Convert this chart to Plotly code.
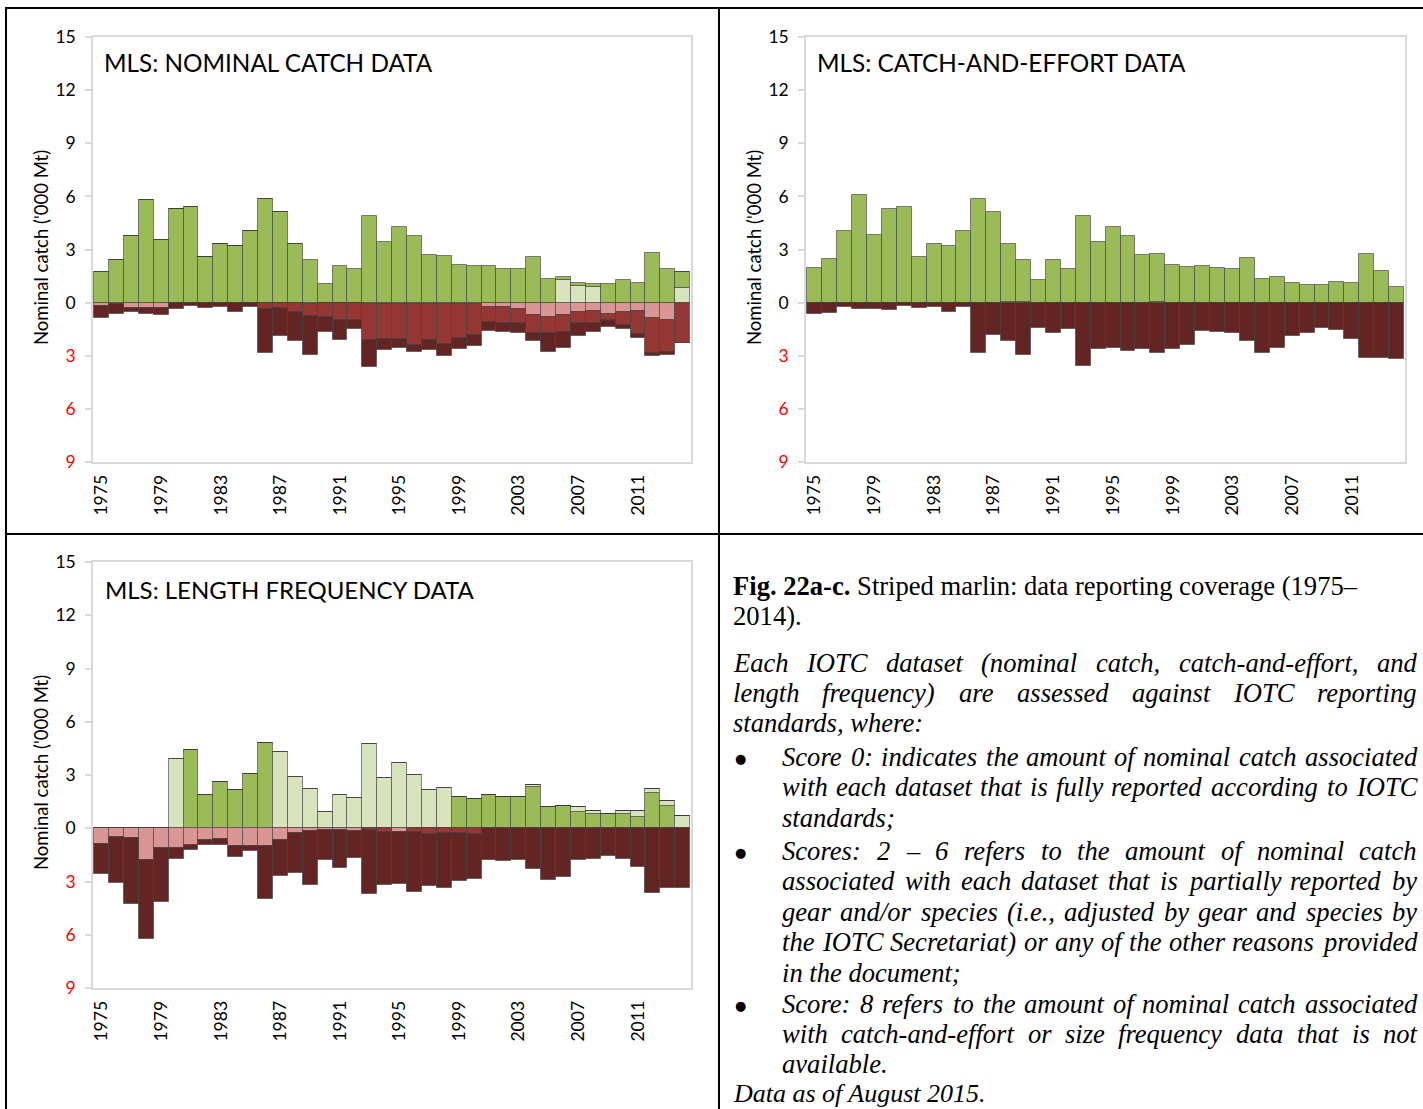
import plotly.graph_objects as go

W, H = 1423, 1109

years = list(range(1975, 2015))
tick_years = [1975, 1979, 1983, 1987, 1991, 1995, 1999, 2003, 2007, 2011]

# ---- Panel a: nominal catch data ('000 t) ----
nc_green = [1.74, 2.43, 3.74, 5.77, 3.51, 5.28, 5.40, 2.55, 3.30, 3.19,
            4.04, 5.87, 5.09, 3.30, 2.43, 1.06, 2.06, 1.92, 4.89, 3.42,
            4.25, 3.79, 2.70, 2.64, 2.13, 2.08, 2.06, 1.92, 1.89, 2.55,
            1.36, 0.17, 0.17, 0.15, 1.04, 1.25, 1.13, 2.83, 1.92, 0.94]
nc_lightgreen = [0, 0, 0, 0, 0, 0, 0, 0, 0, 0,
                 0, 0, 0, 0, 0, 0, 0, 0, 0, 0,
                 0, 0, 0, 0, 0, 0, 0, 0, 0, 0,
                 0, 1.28, 0.96, 0.89, 0, 0, 0, 0, 0, 0.81]
nc_pink = [0.19, 0.10, 0.28, 0.28, 0.30, 0, 0, 0, 0, 0,
           0, 0, 0, 0, 0.05, 0.04, 0.04, 0.04, 0.05, 0.05,
           0.08, 0.05, 0.05, 0.05, 0.06, 0.05, 0.25, 0.25, 0.38, 0.72,
           0.81, 0.72, 0.53, 0.47, 0.62, 0.53, 0.49, 0.85, 1.00, 0]
nc_red = [0, 0, 0, 0, 0, 0, 0, 0, 0, 0,
          0, 0.38, 0.28, 0.53, 0.72, 0.79, 0.92, 0.94, 2.08, 1.98,
          1.98, 2.36, 2.04, 2.26, 1.92, 1.75, 0.83, 0.92, 0.75, 1.02,
          0.89, 0.92, 0.62, 0.66, 0.38, 0.72, 1.30, 2.02, 1.79, 2.26]
nc_darkred = [0.66, 0.55, 0.25, 0.34, 0.40, 0.38, 0.19, 0.28, 0.23, 0.53,
              0.26, 2.49, 1.60, 1.62, 2.17, 0.85, 1.15, 0.53, 1.53, 0.66,
              0.53, 0.38, 0.60, 0.72, 0.66, 0.66, 0.51, 0.49, 0.58, 0.40,
              1.09, 0.91, 0.72, 0.51, 0.36, 0.23, 0.23, 0.15, 0.17, 0.04]

# ---- Panel b: catch-and-effort data ----
ce_lightgreen = [0, 0, 0, 0, 0, 0, 0, 0, 0, 0,
                 0, 0, 0, 0.06, 0.06, 0, 0, 0, 0, 0,
                 0, 0, 0, 0.06, 0, 0, 0, 0, 0, 0,
                 0, 0, 0, 0, 0, 0, 0, 0, 0, 0]
ce_green = [1.94, 2.49, 4.02, 6.06, 3.81, 5.28, 5.38, 2.55, 3.30, 3.19,
            4.04, 5.87, 5.09, 3.24, 2.32, 1.25, 2.43, 1.91, 4.89, 3.43,
            4.25, 3.79, 2.70, 2.69, 2.13, 2.04, 2.08, 1.94, 1.89, 2.53,
            1.32, 1.45, 1.11, 1.00, 1.00, 1.19, 1.09, 2.72, 1.77, 0.89]
ce_darkred = [0.66, 0.58, 0.23, 0.38, 0.38, 0.40, 0.21, 0.28, 0.23, 0.53,
              0.26, 2.87, 1.85, 2.15, 2.98, 1.45, 1.72, 1.47, 3.60, 2.64,
              2.55, 2.74, 2.64, 2.87, 2.60, 2.42, 1.62, 1.66, 1.70, 2.17,
              2.83, 2.58, 1.91, 1.70, 1.42, 1.53, 2.08, 3.11, 3.11, 3.17]

# ---- Panel c: length frequency data ----
sf_green = [0, 0, 0, 0, 0, 0, 4.40, 1.89, 2.60, 2.13,
            3.06, 4.81, 0, 0, 0, 0, 0, 0, 0, 0,
            0, 0, 0, 0, 1.75, 1.64, 1.89, 1.75, 1.77, 2.34,
            1.19, 1.28, 0.92, 0.79, 0.83, 0.83, 0.64, 2.00, 1.28, 0]
sf_lightgreen = [0, 0, 0, 0, 0, 3.91, 0, 0, 0, 0,
                 0, 0, 4.32, 2.91, 2.19, 0.92, 1.87, 1.72, 4.75, 2.85,
                 3.66, 3.00, 2.13, 2.26, 0, 0, 0, 0, 0, 0.08,
                 0, 0, 0.30, 0.17, 0, 0.17, 0.32, 0.19, 0.25, 0.68]
sf_pink = [0.91, 0.47, 0.53, 1.79, 1.13, 1.13, 0.92, 0.64, 0.62, 1.00,
           0.98, 0.98, 0.68, 0.26, 0.13, 0.10, 0.10, 0.15, 0, 0,
           0.19, 0, 0, 0, 0, 0, 0, 0, 0, 0,
           0, 0, 0, 0, 0, 0, 0, 0, 0, 0]
sf_red = [0, 0, 0, 0, 0, 0, 0, 0, 0, 0,
          0, 0, 0, 0, 0, 0, 0, 0, 0.08, 0.19,
          0, 0.23, 0.32, 0.26, 0.26, 0.32, 0, 0, 0, 0,
          0, 0, 0, 0, 0, 0, 0, 0, 0, 0]
sf_darkred = [1.68, 2.60, 3.74, 4.47, 3.04, 0.62, 0.32, 0.32, 0.32, 0.60,
              0.28, 3.02, 2.00, 2.26, 3.06, 1.68, 2.15, 1.51, 3.64, 3.02,
              2.94, 3.34, 2.94, 3.09, 2.72, 2.53, 1.77, 1.85, 1.81, 2.28,
              2.94, 2.72, 1.79, 1.75, 1.57, 1.74, 2.17, 3.64, 3.38, 3.38]

y_tickvals = [-9, -6, -3, 0, 3, 6, 9, 12, 15]

C_GREEN = "#9bbb59"
C_LGREEN = "#d7e4bd"
C_PINK = "#da9694"
C_RED = "#953735"
C_DRED = "#632523"
OUTLINE = "rgba(60,60,60,0.6)"

FONT = "Lato"
SERIF = "Liberation Serif"


def bar(x, y, color, xa, ya, neg=False):
    vals = [-v for v in y] if neg else y
    return go.Bar(x=x, y=vals, marker=dict(color=color, line=dict(color=OUTLINE, width=1)),
                  width=1.0, xaxis=xa, yaxis=ya, showlegend=False, hoverinfo="skip")


fig = go.Figure()
# panel a (light green at the bottom of the positive stack)
for s, c, n in [(nc_lightgreen, C_LGREEN, False), (nc_green, C_GREEN, False),
                (nc_pink, C_PINK, True), (nc_red, C_RED, True), (nc_darkred, C_DRED, True)]:
    fig.add_trace(bar(years, s, c, "x", "y", n))
# panel b
for s, c, n in [(ce_lightgreen, C_LGREEN, False), (ce_green, C_GREEN, False),
                (ce_darkred, C_DRED, True)]:
    fig.add_trace(bar(years, s, c, "x2", "y2", n))
# panel c (light green on top of the positive stack)
for s, c, n in [(sf_green, C_GREEN, False), (sf_lightgreen, C_LGREEN, False),
                (sf_pink, C_PINK, True), (sf_red, C_RED, True), (sf_darkred, C_DRED, True)]:
    fig.add_trace(bar(years, s, c, "x3", "y3", n))


def px_dom_x(a, b):
    return [a / W, b / W]


def px_dom_y(top, bottom):
    return [1 - bottom / H, 1 - top / H]


ticktext = []
for v in y_tickvals:
    if v < 0:
        ticktext.append("<span style='color:#ff0000'>%d</span>" % abs(v))
    else:
        ticktext.append(str(v))

xcommon = dict(range=[1974.42, 2014.56], tickmode="array", tickvals=tick_years,
               ticktext=[str(t) for t in tick_years], tickangle=-90, ticks="",
               showgrid=False, zeroline=False, showline=True, mirror=True,
               linecolor="#d9d9d9", linewidth=1.5, automargin=False,
               tickfont=dict(family=FONT, size=17.6, color="black"), ticklabelstandoff=4)
ycommon = dict(range=[-9, 15], tickmode="array", tickvals=y_tickvals, ticktext=ticktext,
               ticks="outside", ticklen=6, tickcolor="#d9d9d9", tickwidth=1.5,
               showgrid=False, zeroline=False, showline=True, mirror=True,
               linecolor="#d9d9d9", linewidth=1.5, automargin=False,
               tickfont=dict(family=FONT, size=17.5, color="black"), ticklabelstandoff=6)

fig.update_layout(
    template="none",
    width=W, height=H, margin=dict(l=0, r=0, t=0, b=0, pad=0), autosize=False,
    paper_bgcolor="white", plot_bgcolor="white",
    barmode="relative", bargap=0, showlegend=False,
    xaxis=dict(domain=px_dom_x(93, 691), anchor="y", **xcommon),
    yaxis=dict(domain=px_dom_y(37, 462), anchor="x", **ycommon),
    xaxis2=dict(domain=px_dom_x(806, 1405), anchor="y2", **xcommon),
    yaxis2=dict(domain=px_dom_y(37, 462), anchor="x2", **ycommon),
    xaxis3=dict(domain=px_dom_x(93, 691), anchor="y3", **xcommon),
    yaxis3=dict(domain=px_dom_y(562, 988), anchor="x3", **ycommon),
)

annotations = []


def ann(text, px, py, size, family, xanchor="left", yanchor="middle", textangle=0, color="black"):
    annotations.append(dict(text=text, x=px / W, y=1 - py / H, xref="paper", yref="paper",
                            xanchor=xanchor, yanchor=yanchor, showarrow=False,
                            textangle=textangle, borderpad=0, borderwidth=0,
                            font=dict(size=size, family=family, color=color)))


# panel titles
ann("MLS: NOMINAL CATCH DATA", 104, 63, 24.3, FONT)
ann("MLS: CATCH-AND-EFFORT DATA", 817, 63, 24.3, FONT)
ann("MLS: LENGTH FREQUENCY DATA", 105, 589, 24.0, FONT)
# y titles
ann("Nominal catch ('000 Mt)", 41, 248, 18.5, FONT, xanchor="center", textangle=-90)
ann("Nominal catch ('000 Mt)", 754, 248, 18.5, FONT, xanchor="center", textangle=-90)
ann("Nominal catch ('000 Mt)", 41, 773, 18.5, FONT, xanchor="center", textangle=-90)

# ---- caption text (Times metrics for justification) ----
_lc = "abcdefghijklmnopqrstuvwxyz"
_uc = "ABCDEFGHIJKLMNOPQRSTUVWXYZ"
RW = dict(zip(_lc, [444, 500, 444, 500, 444, 333, 500, 500, 278, 278, 500, 278, 778,
                    500, 500, 500, 500, 333, 389, 278, 500, 500, 722, 500, 500, 444]))
RW.update(zip(_uc, [722, 667, 667, 722, 611, 556, 722, 722, 333, 389, 722, 611, 889,
                    722, 722, 556, 722, 667, 556, 611, 722, 722, 944, 722, 722, 611]))
RW.update({" ": 250, ".": 250, ",": 250, ":": 278, ";": 278, "(": 333, ")": 333,
           "-": 333, "\u2013": 500, "/": 278})
IW = dict(zip(_lc, [500, 500, 444, 500, 444, 278, 500, 500, 278, 278, 444, 278, 722,
                    500, 500, 500, 500, 389, 389, 278, 500, 444, 667, 444, 444, 389]))
IW.update(zip(_uc, [611, 611, 667, 722, 611, 611, 722, 722, 333, 444, 667, 556, 833,
                    667, 722, 611, 722, 611, 500, 556, 722, 611, 833, 611, 556, 556]))
IW.update({" ": 250, ".": 250, ",": 250, ":": 333, ";": 333, "(": 333, ")": 333,
           "-": 333, "\u2013": 500, "/": 278})
for d in (RW, IW):
    for ch in "0123456789":
        d[ch] = 500

TS = 26.6


def width(word, table):
    return sum(table.get(ch, 500) for ch in word) * TS / 1000.0


def justified(line, left, right, py):
    words = line.split(" ")
    ws = [width(w, IW) for w in words]
    gap = (right - left - sum(ws)) / (len(words) - 1)
    x = left
    for w, wd in zip(words, ws):
        ann("<i>%s</i>" % w, x, py, TS, SERIF)
        x += wd + gap


ann("<b>Fig. 22a-c.</b> Striped marlin: data reporting coverage (1975\u2013", 733, 586, TS, SERIF)
ann("2014).", 733, 616, TS, SERIF)
justified("Each IOTC dataset (nominal catch, catch-and-effort, and", 733, 1417, 663)
justified("length frequency) are assessed against IOTC reporting", 733, 1417, 693)
ann("<i>standards, where:</i>", 733, 723, TS, SERIF)

for py in (757, 851, 1004):
    ann("\u25cf", 740, py + 1, 13, "DejaVu Sans", xanchor="center")

justified("Score 0: indicates the amount of nominal catch associated", 782, 1417, 757)
justified("with each dataset that is fully reported according to IOTC", 782, 1417, 787)
ann("<i>standards;</i>", 782, 818, TS, SERIF)
justified("Scores: 2 \u2013 6 refers to the amount of nominal catch", 782, 1417, 851)
justified("associated with each dataset that is partially reported by", 782, 1417, 881)
justified("gear and/or species (i.e., adjusted by gear and species by", 782, 1417, 912)
justified("the IOTC Secretariat) or any of the other reasons provided", 782, 1417, 942)
ann("<i>in the document;</i>", 782, 973, TS, SERIF)
justified("Score: 8 refers to the amount of nominal catch associated", 782, 1417, 1004)
justified("with catch-and-effort or size frequency data that is not", 782, 1417, 1034)
ann("<i>available.</i>", 782, 1064, TS, SERIF)
ann("<i>Data as of August 2015.</i>", 733, 1093, 26.0, SERIF)

fig.update_layout(annotations=annotations)

# table borders
shapes = []


def hline(py, x0, x1):
    shapes.append(dict(type="line", xref="paper", yref="paper", x0=x0 / W, x1=x1 / W,
                       y0=1 - py / H, y1=1 - py / H, line=dict(color="black", width=2)))


def vline(px, y0, y1):
    shapes.append(dict(type="line", xref="paper", yref="paper", x0=px / W, x1=px / W,
                       y0=1 - y0 / H, y1=1 - y1 / H, line=dict(color="black", width=2)))


hline(8, 6, W)
hline(534, 6, W)
vline(6, 7, H)
vline(719, 7, H)
fig.update_layout(shapes=shapes)

fig.write_html("out.html", config={"displayModeBar": False},
               post_script="document.body.style.margin='0px';document.body.style.overflow='hidden';")
